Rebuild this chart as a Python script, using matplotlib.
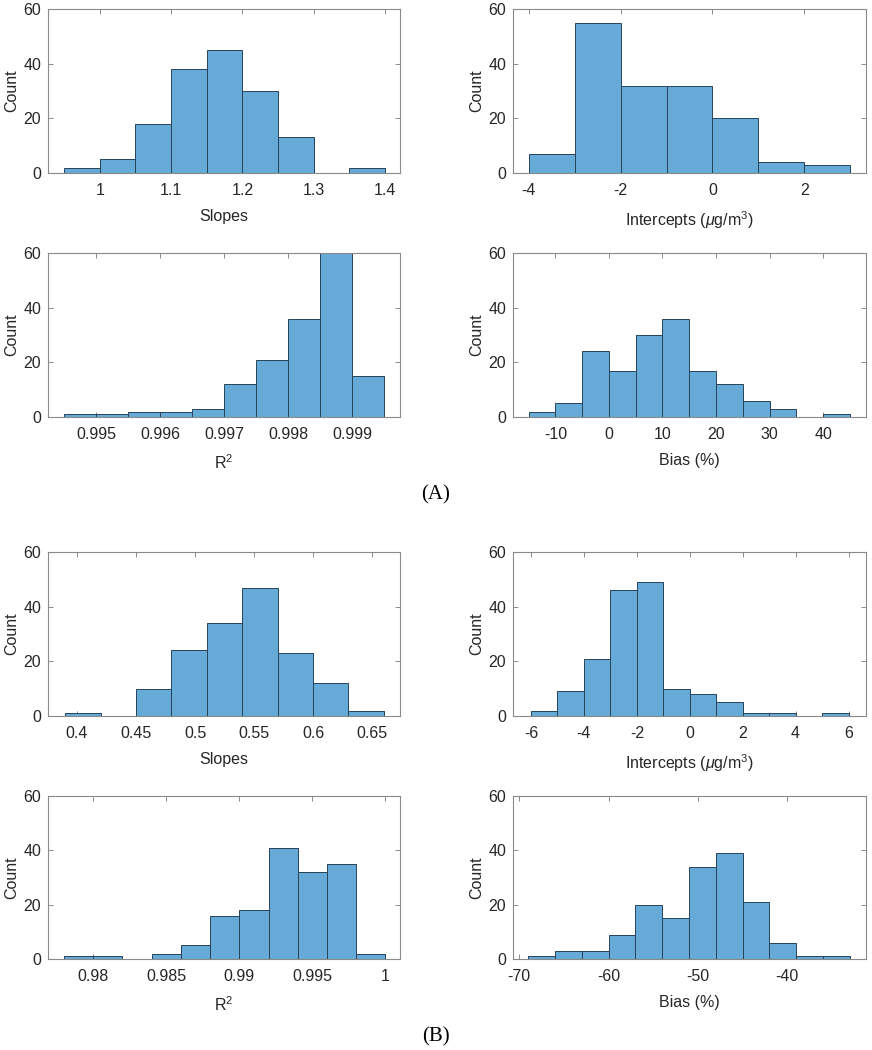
import numpy as np
import matplotlib
matplotlib.use("Agg")
import matplotlib.pyplot as plt

plt.rcParams['font.family'] = ['Liberation Sans', 'DejaVu Sans']
plt.rcParams['mathtext.fontset'] = 'custom'
plt.rcParams['mathtext.rm'] = 'Liberation Sans'
plt.rcParams['mathtext.it'] = 'Liberation Sans:italic'
plt.rcParams['axes.unicode_minus'] = False

# ---------------- data (bin start, bin width, counts) ----------------
# (A)
slopes_a_start, slopes_a_width = 0.95, 0.05
slopes_a_counts = [2, 5, 18, 38, 45, 30, 13, 0, 2]

icpt_a_start, icpt_a_width = -4.0, 1.0
icpt_a_counts = [7, 55, 32, 32, 20, 4, 3]

r2_a_start, r2_a_width = 0.9945, 0.0005
r2_a_counts = [1, 1, 2, 2, 3, 12, 21, 36, 60, 15]

bias_a_start, bias_a_width = -15.0, 5.0
bias_a_counts = [2, 5, 24, 17, 30, 36, 17, 12, 6, 3, 0, 1]

# (B)
slopes_b_start, slopes_b_width = 0.39, 0.03
slopes_b_counts = [1, 0, 10, 24, 34, 47, 23, 12, 2]

icpt_b_start, icpt_b_width = -6.0, 1.0
icpt_b_counts = [2, 9, 21, 46, 49, 10, 8, 5, 1, 1, 0, 1]

r2_b_start, r2_b_width = 0.978, 0.002
r2_b_counts = [1, 1, 0, 2, 5, 16, 18, 41, 32, 35, 2]

bias_b_start, bias_b_width = -69.0, 3.0
bias_b_counts = [1, 3, 3, 9, 20, 15, 34, 39, 21, 6, 1, 1]

# tick values
slopes_a_ticks = [1, 1.1, 1.2, 1.3, 1.4]
icpt_a_ticks = [-4, -2, 0, 2]
r2_a_ticks = [0.995, 0.996, 0.997, 0.998, 0.999]
bias_a_ticks = [-10, 0, 10, 20, 30, 40]
slopes_b_ticks = [0.4, 0.45, 0.5, 0.55, 0.6, 0.65]
icpt_b_ticks = [-6, -4, -2, 0, 2, 4, 6]
r2_b_ticks = [0.98, 0.985, 0.99, 0.995, 1]
bias_b_ticks = [-70, -60, -50, -40]
count_ticks = [0, 20, 40, 60]

# ---------------- figure ----------------
W, H = 872, 1050
fig = plt.figure(figsize=(W / 100, H / 100), dpi=100)

FACE = '#66aad7'
EDGE = '#27435c'
SPINE = '#8a8a8a'
TXT = '#262626'
FS = 11.5


def px_axes(x0, y0, x1, y1):
    return fig.add_axes([x0 / W, 1 - y1 / H, (x1 - x0) / W, (y1 - y0) / H])


def panel(ax, start, width, counts, xlim, ticks, xlabel):
    counts = np.asarray(counts, dtype=float)
    lefts = start + width * np.arange(len(counts))
    m = counts > 0
    ax.bar(lefts[m], counts[m], width=width, align='edge',
           color=FACE, edgecolor=EDGE, linewidth=0.7, zorder=2)
    ax.set_xlim(*xlim)
    ax.set_ylim(0, 60)
    ax.set_xticks(ticks)
    ax.set_xticklabels(['%g' % t for t in ticks])
    ax.set_yticks(count_ticks)
    for s in ax.spines.values():
        s.set_color(SPINE)
        s.set_linewidth(0.8)
        s.set_zorder(3)
    ax.tick_params(direction='in', length=3.5, width=0.7, color=SPINE,
                   top=True, right=True, labelsize=FS, labelcolor=TXT)
    ax.tick_params(axis='x', pad=7)
    ax.tick_params(axis='y', pad=5)
    ax.set_xlabel(xlabel, fontsize=FS, color=TXT, labelpad=8)
    ax.set_ylabel('Count', fontsize=FS, color=TXT, labelpad=3)


LX0, LX1 = 48, 400
RX0, RX1 = 513, 866
rows = [(9, 173), (253, 417), (552, 716), (796, 959)]

ax = px_axes(LX0, rows[0][0], LX1, rows[0][1])
panel(ax, slopes_a_start, slopes_a_width, slopes_a_counts, (0.9274, 1.421),
      slopes_a_ticks, 'Slopes')
ax = px_axes(RX0, rows[0][0], RX1, rows[0][1])
panel(ax, icpt_a_start, icpt_a_width, icpt_a_counts, (-4.34, 3.34),
      icpt_a_ticks, r'Intercepts ($\mu$g/m$^3$)')
ax = px_axes(LX0, rows[1][0], LX1, rows[1][1])
panel(ax, r2_a_start, r2_a_width, r2_a_counts, (0.99425, 0.99975),
      r2_a_ticks, r'R$^2$')
ax = px_axes(RX0, rows[1][0], RX1, rows[1][1])
panel(ax, bias_a_start, bias_a_width, bias_a_counts, (-17.9, 48.0),
      bias_a_ticks, 'Bias (%)')

ax = px_axes(LX0, rows[2][0], LX1, rows[2][1])
panel(ax, slopes_b_start, slopes_b_width, slopes_b_counts, (0.3754, 0.6737),
      slopes_b_ticks, 'Slopes')
ax = px_axes(RX0, rows[2][0], RX1, rows[2][1])
panel(ax, icpt_b_start, icpt_b_width, icpt_b_counts, (-6.68, 6.66),
      icpt_b_ticks, r'Intercepts ($\mu$g/m$^3$)')
ax = px_axes(LX0, rows[3][0], LX1, rows[3][1])
panel(ax, r2_b_start, r2_b_width, r2_b_counts, (0.9769, 1.001),
      r2_b_ticks, r'R$^2$')
ax = px_axes(RX0, rows[3][0], RX1, rows[3][1])
panel(ax, bias_b_start, bias_b_width, bias_b_counts, (-70.7, -31.2),
      bias_b_ticks, 'Bias (%)')

fig.text(436 / W, 1 - 495 / H, '(A)', ha='center', va='center',
         fontsize=15, family=['Liberation Serif', 'DejaVu Serif'], color='black')
fig.text(436 / W, 1 - 1037 / H, '(B)', ha='center', va='center',
         fontsize=15, family=['Liberation Serif', 'DejaVu Serif'], color='black')

fig.savefig('out.png', dpi=100, facecolor='white')
